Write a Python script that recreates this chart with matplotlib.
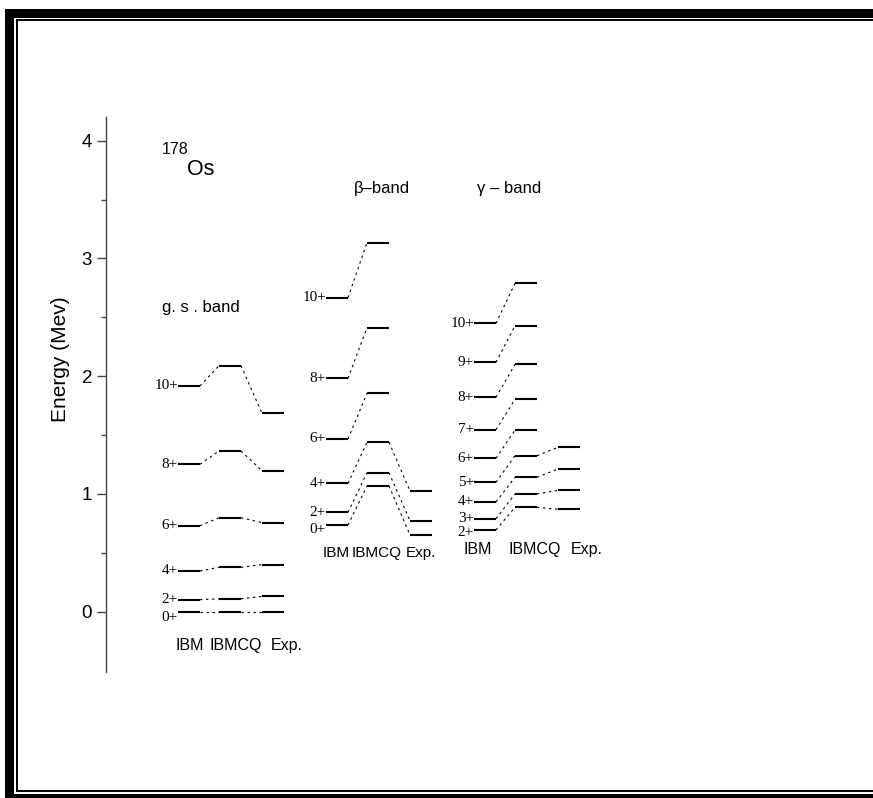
import matplotlib
matplotlib.use("Agg")
import matplotlib.pyplot as plt
from matplotlib.patches import Rectangle
from matplotlib.ticker import FixedLocator

# level energies in MeV
gs_spins = ["0+", "2+", "4+", "6+", "8+", "10+"]
gs_ibm = [0.0, 0.102, 0.346, 0.730, 1.252, 1.917]
gs_ibmcq = [0.0, 0.110, 0.377, 0.798, 1.365, 2.089]
gs_exp = [0.0, 0.130, 0.400, 0.756, 1.197, 1.685]

beta_spins = ["0+", "2+", "4+", "6+", "8+", "10+"]
beta_ibm = [0.736, 0.844, 1.090, 1.467, 1.982, 2.667]
beta_ibmcq = [1.068, 1.180, 1.439, 1.855, 2.412, 3.134]
beta_exp = [0.651, 0.773, 1.025]

gamma_spins = ["2+", "3+", "4+", "5+", "6+", "7+", "8+", "9+", "10+"]
gamma_ibm = [0.694, 0.790, 0.932, 1.099, 1.303, 1.545, 1.821, 2.118, 2.449]
gamma_ibmcq = [0.887, 1.000, 1.141, 1.325, 1.543, 1.804, 2.101, 2.429, 2.789]
gamma_exp = [0.870, 1.031, 1.212, 1.396]

columns = ["IBM", "IBMCQ", "Exp."]

# layout (x in pixels right of the energy axis)
col_off = [0, 41, 84]
lev_w = 22
bands = [
    dict(x0=72, spins=gs_spins, vals=[gs_ibm, gs_ibmcq, gs_exp],
         title="g. s . band", title_xy=(56, 2.587), title_ha="left",
         lab_x=[84, 130, 181], lab_y=-0.283, lab_fs=11.5,
         nudge={"0+": -0.045}),
    dict(x0=220, spins=beta_spins, vals=[beta_ibm, beta_ibmcq, beta_exp],
         title="\u03b2\u2013band", title_xy=(276, 3.598), title_ha="center",
         lab_x=[230, 271, 315], lab_y=0.498, lab_fs=11,
         nudge={"0+": -0.04}),
    dict(x0=368, spins=gamma_spins, vals=[gamma_ibm, gamma_ibmcq, gamma_exp],
         title="\u03b3 \u2013 band", title_xy=(403, 3.598), title_ha="center",
         lab_x=[372, 429, 481], lab_y=0.525, lab_fs=11.5,
         nudge={"2+": -0.02}),
]

sans = "Liberation Sans"
serif = "Liberation Serif"

W, H = 873, 798
fig = plt.figure(figsize=(W / 100, H / 100), dpi=100)
ax = fig.add_axes([106 / W, (H - 672) / H, 600 / W, (672 - 117) / H])
ax.set_xlim(0, 600)
ax.set_ylim(-0.512, 4.201)

for b in bands:
    x0 = b["x0"]
    cols = b["vals"]
    for c, vals in enumerate(cols):
        xs = x0 + col_off[c]
        for v in vals:
            ax.plot([xs, xs + lev_w], [v, v], color="black", lw=1.5,
                    solid_capstyle="butt")
    # dotted connectors between columns
    for c in range(2):
        a, nxt = cols[c], cols[c + 1]
        for i in range(min(len(a), len(nxt))):
            ax.plot([x0 + col_off[c] + lev_w, x0 + col_off[c + 1]], [a[i], nxt[i]],
                    color="black", lw=0.8, linestyle=(0, (2.2, 3.2)))
    # spin labels
    for i, s in enumerate(b["spins"]):
        y = cols[0][i] + b["nudge"].get(s, 0)
        ax.text(x0, y, s, ha="right", va="center", family=serif,
                fontsize=11, color="black")
    for lx, name in zip(b["lab_x"], columns):
        ax.text(lx, b["lab_y"], name, ha="center", va="center",
                family=sans, fontsize=b["lab_fs"])
    tx, ty = b["title_xy"]
    ax.text(tx, ty, b["title"], ha=b["title_ha"], va="center",
            family=sans, fontsize=12)

ax.text(56, 3.921, "178", ha="left", va="center", family=sans, fontsize=11.5)
ax.text(81, 3.751, "Os", ha="left", va="center", family=sans, fontsize=15.5)

for side in ["top", "right", "bottom"]:
    ax.spines[side].set_visible(False)
ax.spines["left"].set_color("#444444")
ax.spines["left"].set_linewidth(1.0)
ax.set_xticks([])
ax.set_yticks([0, 1, 2, 3, 4])
ax.yaxis.set_minor_locator(FixedLocator([0.5, 1.5, 2.5, 3.5]))
ax.tick_params(axis="y", which="major", direction="out", length=6.5, width=1,
               color="#444444", pad=3.5, labelsize=13.5)
ax.tick_params(axis="y", which="minor", direction="out", length=3.5, width=1,
               color="#444444")
for t in ax.get_yticklabels():
    t.set_family(sans)
ax.set_ylabel("Energy (Mev)", family=sans, fontsize=15)
ax.yaxis.set_label_coords(-0.06, (672 - 359) / 555)


# double frame around the figure
def frame(x, y, w, h):
    fig.add_artist(Rectangle((x / W, 1 - (y + h) / H), w / W, h / H,
                             transform=fig.transFigure, facecolor="black",
                             edgecolor="none"))


frame(5, 9, W, 9)        # thick top
frame(5, 9, 9, H)        # thick left
frame(5, 794, W, 10)     # thick bottom
frame(16, 19, W, 2)      # thin top
frame(16, 19, 1.6, 772)  # thin left
frame(16, 790, W, 2)     # thin bottom

fig.savefig("out.png", dpi=100)
